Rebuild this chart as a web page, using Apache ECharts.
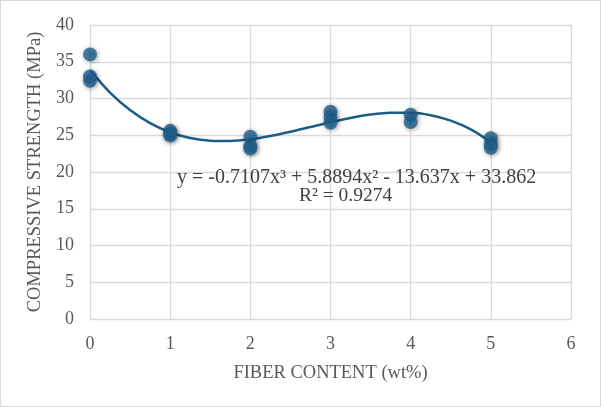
<!DOCTYPE html>
<html><head><meta charset="utf-8">
<script src="https://cdn.jsdelivr.net/npm/echarts@6/dist/echarts.min.js"></script>
<style>html,body{margin:0;padding:0;background:#fff}#c{width:601px;height:407px;box-sizing:border-box;border:1px solid #d9d9d9}</style>
</head><body><div id="c"></div>
<script>
const xTicks = [0,1,2,3,4,5,6];
const yTicks = [0,5,10,15,20,25,30,35,40];
const fiberContent = [0,0,0,1,1,1,2,2,2,3,3,3,4,4,5,5,5];
const strength = [36.0,33.0,32.4,25.6,25.2,25.0,24.8,23.5,23.2,28.2,27.5,26.7,27.8,26.8,24.6,23.8,23.3];
const trendX = [0,0.25,0.5,0.75,1,1.25,1.5,1.75,2,2.25,2.5,2.75,3,3.25,3.5,3.75,4,4.25,4.5,4.75,5];
const trendY = [33.86,30.81,28.43,26.65,25.40,24.63,24.26,24.22,24.46,24.90,25.47,26.12,26.77,27.35,27.81,28.06,28.06,27.73,26.99,25.80,24.07];
const eqText = 'y = -0.7107x³ + 5.8894x² - 13.637x + 33.862';
const r2Text = 'R² = 0.9274';

const chart = echarts.init(document.getElementById('c'));
const font = '"Liberation Serif","Times New Roman",serif';
const grid = {left:89, right:29, top:24, bottom:87};
chart.setOption({
  animation:false,
  grid: grid,
  xAxis: {type:'value', min:0, max:6, interval:1,
    name:'FIBER CONTENT (wt%)', nameLocation:'middle', nameGap:45,
    nameTextStyle:{fontFamily:font, fontSize:18.5, color:'#595959'},
    axisLine:{show:false}, axisTick:{show:false},
    axisLabel:{fontFamily:font, fontSize:18, color:'#595959', margin:16},
    splitLine:{show:true, lineStyle:{color:'#d9d9d9', width:1.3}}},
  yAxis: {type:'value', min:0, max:40, interval:5,
    name:'COMPRESSIVE STRENGTH (MPa)', nameLocation:'middle', nameGap:37,
    nameTextStyle:{fontFamily:font, fontSize:18.5, color:'#595959'},
    axisLine:{show:false}, axisTick:{show:false},
    axisLabel:{fontFamily:font, fontSize:18, color:'#595959', margin:16},
    splitLine:{show:true, lineStyle:{color:'#d9d9d9', width:1.3}}},
  series: [
    {type:'line', data: trendX.map((x,i)=>[x,trendY[i]]), smooth:0.3, symbol:'none',
     lineStyle:{color:'#1a5e87', width:2.5}, z:3},
    {type:'scatter', data: fiberContent.map((x,i)=>[x,strength[i]]), symbolSize:14,
     itemStyle:{color:'#1f6190', shadowBlur:5, shadowColor:'rgba(0,0,0,0.45)', shadowOffsetX:1, shadowOffsetY:1}, z:4}
  ],
  graphic: [
    {type:'text', left:176, top:167, style:{text:eqText, font:'20px '+font, fill:'#404040'}, z:10},
    {type:'text', left:298, top:185, style:{text:r2Text, font:'19.5px '+font, fill:'#404040'}, z:10}
  ]
});
</script></body></html>
